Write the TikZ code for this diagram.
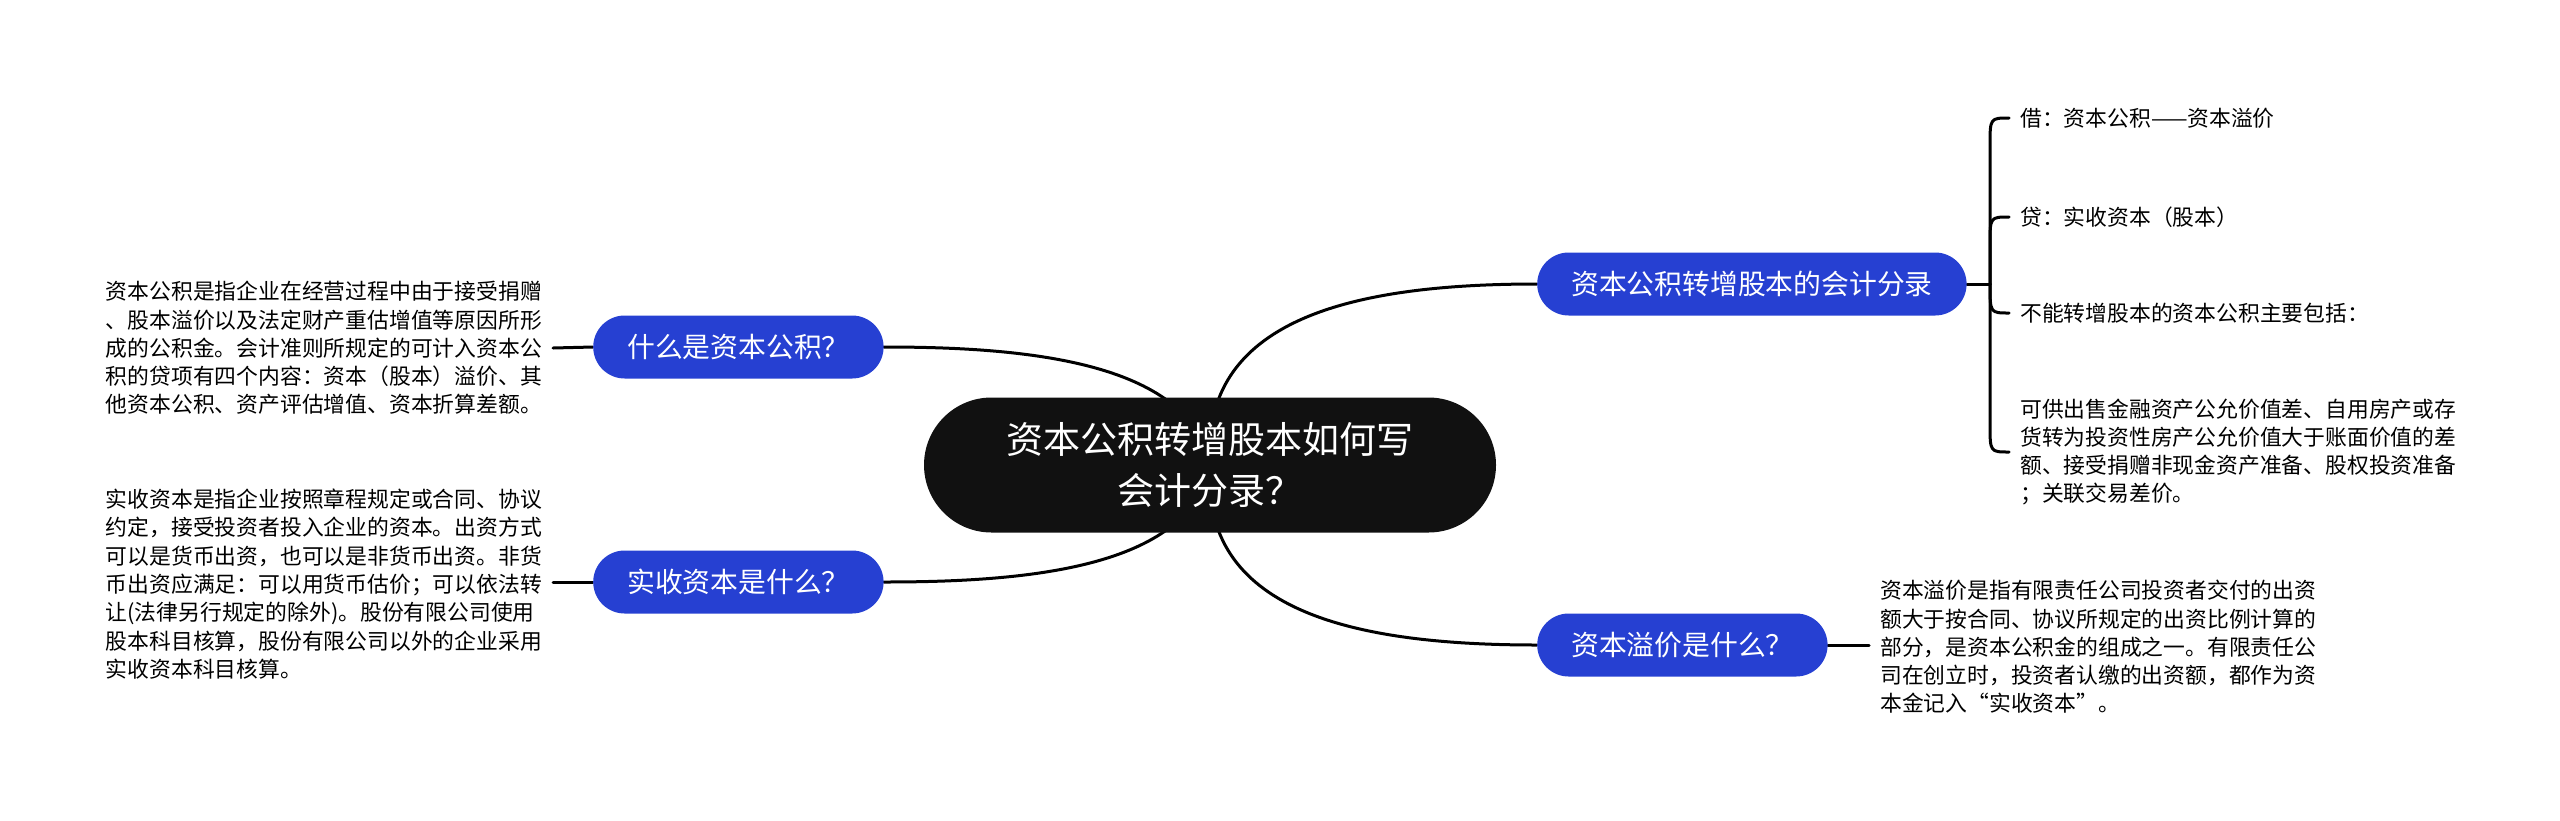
\documentclass[tikz,border=0pt]{standalone}
\usepackage{fontspec}
\setmainfont{Noto Sans CJK SC}
\usetikzlibrary{backgrounds}
\definecolor{topicblue}{RGB}{38,64,210}
\definecolor{rootblack}{RGB}{17,17,17}

\begin{document}
\begin{tikzpicture}[x=1pt,y=1pt,yscale=-1,xscale=1,
  root/.style={fill=rootblack,text=white,rounded corners=67.5pt,minimum width=572pt,minimum height=135pt,align=center,inner sep=0pt,font=\fontsize{37}{51}\selectfont},
  topic/.style={fill=topicblue,text=white,rounded corners=31.5pt,minimum height=63pt,inner xsep=34pt,inner ysep=0pt,anchor=west,font=\fontsize{27.8}{34}\selectfont},
  note/.style={align=left,inner xsep=11pt,inner ysep=0pt,font=\fontsize{21.8}{28.3}\selectfont},
  link/.style={line width=3pt,line cap=round}]

\useasboundingbox (0,0) rectangle (2560,820);

% Central topic
\node [root] (root) at (1210,465) {资本公积转增股本如何写\\会计分录？};

% Main topics
\node [topic] (q1) at (593,347) {什么是资本公积？};
\node [topic] (q2) at (593,582) {实收资本是什么？};
\node [topic] (q3) at (1537,284) {资本公积转增股本的会计分录};
\node [topic] (q4) at (1537,645) {资本溢价是什么？};

% Text Node
\node [note,anchor=east] (t1) at (553,348) {资本公积是指企业在经营过程中由于接受捐赠\\、股本溢价以及法定财产重估增值等原因所形\\成的公积金。会计准则所规定的可计入资本公\\积的贷项有四个内容：资本（股本）溢价、其\\他资本公积、资产评估增值、资本折算差额。};
% Text Node
\node [note,anchor=east] (t2) at (553,584) {实收资本是指企业按照章程规定或合同、协议\\约定，接受投资者投入企业的资本。出资方式\\可以是货币出资，也可以是非货币出资。非货\\币出资应满足：可以用货币估价；可以依法转\\让(法律另行规定的除外)。股份有限公司使用\\股本科目核算，股份有限公司以外的企业采用\\实收资本科目核算。};
% Text Node
\node [note,anchor=west] (t4) at (1869,647) {资本溢价是指有限责任公司投资者交付的出资\\额大于按合同、协议所规定的出资比例计算的\\部分，是资本公积金的组成之一。有限责任公\\司在创立时，投资者认缴的出资额，都作为资\\本金记入“实收资本”。};

% Leaves of the entry
\node [note,anchor=west] (l1) at (2009,118) {借：资本公积——资本溢价};
\node [note,anchor=west] (l2) at (2009,217) {贷：实收资本（股本）};
\node [note,anchor=west] (l3) at (2009,313) {不能转增股本的资本公积主要包括：};
\node [note,anchor=west] (l4) at (2009,452) {可供出售金融资产公允价值差、自用房产或存\\货转为投资性房产公允价值大于账面价值的差\\额、接受捐赠非现金资产准备、股权投资准备\\；关联交易差价。};
\coordinate (hub) at (1990,284);

\begin{scope}[on background layer]
%Curve Lines
\draw [link] (root.center) .. controls (1190,360) and (1020,347) .. (q1.east);
\draw [link] (root.center) .. controls (1190,570) and (1020,582) .. (q2.east);
\draw [link] (root.center) .. controls (1200,320) and (1350,284) .. (q3.west);
\draw [link] (root.center) .. controls (1200,610) and (1350,645) .. (q4.west);
%Straight Lines
\draw [link] (t1.east) -- (q1.west);
\draw [link] (t2.east |- q2.west) -- (q2.west);
\draw [link] (q4.east) -- (t4.west |- q4.east);
\draw [link] (q3.east) -- (hub);
%Bracket
\draw [link] (hub) -- ([yshift=28pt]hub |- l1.west) .. controls (hub |- l1.west) .. (l1.west);
\draw [link] (hub) -- ([yshift=28pt]hub |- l2.west) .. controls (hub |- l2.west) .. (l2.west);
\draw [link] (hub) .. controls (hub |- l3.west) .. (l3.west);
\draw [link] (hub) -- ([yshift=-28pt]hub |- l4.west) .. controls (hub |- l4.west) .. (l4.west);
\end{scope}
\end{tikzpicture}
\end{document}
